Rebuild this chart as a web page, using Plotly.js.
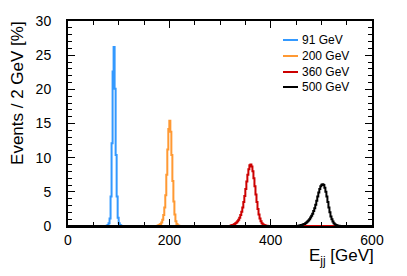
<!DOCTYPE html>
<html>
<head>
<meta charset="utf-8">
<script src="https://cdn.plot.ly/plotly-3.0.1.min.js"></script>
<style>html,body{margin:0;padding:0;background:#fff;}#plot{width:407px;height:276px;}</style>
</head>
<body>
<div id="plot"></div>
<script>
// Histogram settings (2 GeV bins, 0-600 GeV)
const binWidth = 2;
const xMin = 0, xMax = 600;

const seriesNames = ["91 GeV", "200 GeV", "360 GeV", "500 GeV"];
const seriesColors = ["rgb(51,153,255)", "rgb(255,153,51)", "rgb(204,0,0)", "rgb(0,0,0)"];

// low edge of the first non-empty bin for each series
const start91 = 76;
const values91 = [0.05, 0.15, 0.4, 1.1, 4.3, 12.1, 22.6, 26.2, 20.1, 10.4, 4.3, 1.2, 0.4, 0.15, 0.05];

const start200 = 176;
const values200 = [0.05, 0.1, 0.2, 0.3, 0.5, 0.9, 1.6, 2.7, 4.5, 7.5, 11.2, 14.2, 15.4, 13.8, 10.4, 6.6, 3.6, 1.7, 0.7, 0.3, 0.1, 0.05];

const start360 = 320;
const values360 = [0.05, 0.1, 0.15, 0.2, 0.3, 0.4, 0.5, 0.7, 0.9, 1.2, 1.6, 2.1, 2.7, 3.5, 4.4, 5.4, 6.5, 7.5, 8.3, 8.9, 9.0, 8.7, 8.0, 7.0, 5.8, 4.6, 3.5, 2.5, 1.7, 1.1, 0.7, 0.4, 0.25, 0.15, 0.1, 0.05, 0.03];

const start500 = 454;
const values500 = [0.05, 0.08, 0.1, 0.15, 0.2, 0.25, 0.3, 0.4, 0.5, 0.65, 0.8, 1.0, 1.25, 1.5, 1.8, 2.2, 2.6, 3.1, 3.7, 4.3, 4.9, 5.4, 5.8, 6.05, 6.1, 6.0, 5.6, 5.0, 4.3, 3.5, 2.7, 2.0, 1.4, 1.0, 0.65, 0.4, 0.25, 0.15, 0.1, 0.05, 0.03];

const xTickVals = [0, 200, 400, 600];
const yTickVals = [0, 5, 10, 15, 20, 25, 30];

const starts = [start91, start200, start360, start500];
const valueSets = [values91, values200, values360, values500];

function buildStep(start, vals) {
  const nBins = (xMax - xMin) / binWidth;
  const x = [], y = [];
  const first = (start - xMin) / binWidth;
  for (let i = 0; i < nBins; i++) {
    x.push(xMin + i * binWidth);
    const k = i - first;
    y.push(k >= 0 && k < vals.length ? vals[k] : 0);
  }
  x.push(xMax);
  y.push(y[y.length - 1]);
  return {x, y};
}

const traces = valueSets.map((vals, i) => {
  const s = buildStep(starts[i], vals);
  return {
    x: s.x, y: s.y, type: "scatter", mode: "lines",
    line: {shape: "hv", color: seriesColors[i], width: 2},
    name: seriesNames[i], showlegend: false, hoverinfo: "skip"
  };
});

const font = "'Liberation Sans', Arial, Helvetica, sans-serif";

// custom legend (line sample + text) in paper coordinates
const legendRowsPx = [40, 56, 72, 87];
const plotTop = 21, plotH = 205, plotL = 68, plotW = 304;
const shapes = [], annotations = [];
seriesNames.forEach((nm, i) => {
  const yp = 1 - (legendRowsPx[i] - plotTop) / plotH;
  shapes.push({type: "line", xref: "paper", yref: "paper",
    x0: (283 - plotL) / plotW, x1: (298 - plotL) / plotW, y0: yp, y1: yp,
    line: {color: seriesColors[i], width: 2}});
  annotations.push({xref: "paper", yref: "paper", x: (300 - plotL) / plotW, y: yp,
    xanchor: "left", yanchor: "middle", showarrow: false, text: nm,
    font: {family: font, size: 12, color: "#000"}});
});
annotations.push({xref: "paper", yref: "paper", x: (18 - plotL) / plotW, y: 1.01,
  xanchor: "center", yanchor: "top", textangle: -90, showarrow: false,
  text: "Events / 2 GeV [%]", font: {family: font, size: 17, color: "#000"}});
annotations.push({xref: "paper", yref: "paper", x: 1.012, y: -0.09,
  xanchor: "right", yanchor: "top", showarrow: false,
  text: "E<sub>jj</sub> [GeV]", font: {family: font, size: 17, color: "#000"}});

const layout = {
  width: 407, height: 276,
  margin: {l: 68, r: 35, t: 21, b: 50, pad: 0},
  paper_bgcolor: "#fff", plot_bgcolor: "#fff",
  showlegend: false,
  font: {family: font, color: "#000"},
  xaxis: {
    range: [xMin, xMax], tickvals: xTickVals, ticktext: xTickVals.map(String),
    ticks: "inside", ticklen: 7, tickwidth: 1, tickcolor: "#000",
    showline: true, linecolor: "#000", linewidth: 2, mirror: "ticks",
    showgrid: false, zeroline: false,
    tickfont: {family: font, size: 14, color: "#000"},
    ticklabelstandoff: 0,
    minor: {dtick: 50, ticks: "inside", ticklen: 4, tickcolor: "#000", tickwidth: 1, showgrid: false}
  },
  yaxis: {
    range: [0, 30], tickvals: yTickVals, ticktext: yTickVals.map(String),
    ticks: "inside", ticklen: 7, tickwidth: 1, tickcolor: "#000",
    showline: true, linecolor: "#000", linewidth: 2, mirror: "ticks",
    showgrid: false, zeroline: false,
    tickfont: {family: font, size: 14, color: "#000"},
    ticklabelstandoff: 12,
    minor: {dtick: 1, ticks: "inside", ticklen: 4, tickcolor: "#000", tickwidth: 1, showgrid: false}
  },
  shapes: shapes,
  annotations: annotations
};

Plotly.newPlot("plot", traces, layout, {displayModeBar: false, staticPlot: true});
</script>
</body>
</html>
